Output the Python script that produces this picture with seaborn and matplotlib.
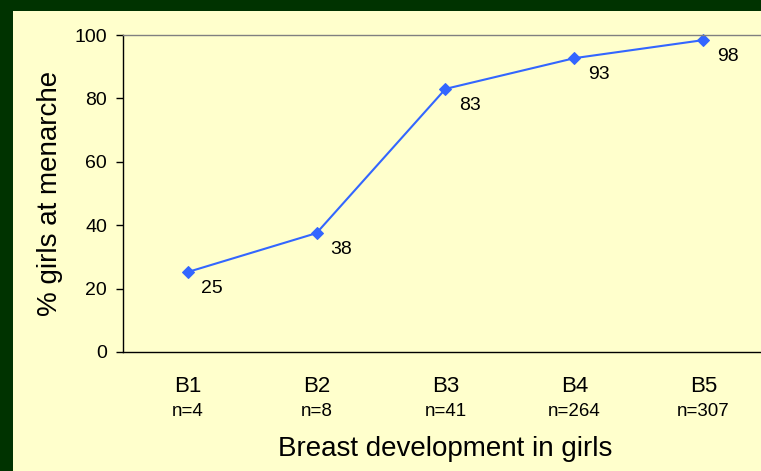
import matplotlib
matplotlib.use("Agg")
import matplotlib.pyplot as plt
import matplotlib.transforms as mtransforms
import seaborn as sns
import pandas as pd

stages = ["B1", "B2", "B3", "B4", "B5"]
counts = ["n=4", "n=8", "n=41", "n=264", "n=307"]
percent = [25.2, 37.5, 83.0, 92.7, 98.4]
labels = ["25", "38", "83", "93", "98"]

df = pd.DataFrame({"pos": range(len(stages)), "pct": percent})

sns.set_theme(style="white")
plt.rcParams["font.family"] = ["Liberation Sans", "DejaVu Sans"]

W, H = 761, 471
fig = plt.figure(figsize=(W / 100, H / 100), dpi=100)
fig.patch.set_facecolor("#003300")
bg = fig.add_axes([13 / W, 0, 1 - 13 / W, 1 - 11 / H], zorder=-10)
bg.set_facecolor("#FFFFCC")
bg.set_xticks([])
bg.set_yticks([])
for s in bg.spines.values():
    s.set_visible(False)

left, right, top, bottom = 123, 768, 35, 352
ax = fig.add_axes([left / W, 1 - bottom / H, (right - left) / W, (bottom - top) / H], zorder=1)
ax.set_facecolor("#FFFFCC")

sns.lineplot(data=df, x="pos", y="pct", ax=ax, color="#3366FF", linewidth=1.5,
             marker="D", markersize=6, markeredgecolor="#3366FF", clip_on=False)

ax.set_xlim(-0.5, 4.5)
ax.set_ylim(0, 100)
ax.set_yticks([0, 20, 40, 60, 80, 100])
ax.tick_params(axis="y", direction="out", length=5, width=1, color="black",
               labelsize=14, labelcolor="black", left=True, pad=6.5)
ax.set_xticks([])
ax.set_xlabel("")
ax.set_ylabel("")

for s in ["left", "bottom"]:
    ax.spines[s].set_color("black")
    ax.spines[s].set_linewidth(1)
ax.spines["right"].set_visible(False)
ax.spines["top"].set_color("#808080")
ax.spines["top"].set_linewidth(1)

offset = mtransforms.offset_copy(ax.transData, fig=fig, x=14, y=-8, units="dots")
for i, (v, lab) in enumerate(zip(percent, labels)):
    ax.text(i, v, lab, transform=offset, fontsize=14, color="black",
            ha="left", va="top")

# category labels: place by pixel offsets below the bottom spine
base = mtransforms.blended_transform_factory(ax.transData, ax.transAxes)
t1 = mtransforms.offset_copy(base, fig=fig, x=0, y=-(387 - bottom), units="dots")
t2 = mtransforms.offset_copy(base, fig=fig, x=0, y=-(412 - bottom), units="dots")
for i, (st, n) in enumerate(zip(stages, counts)):
    ax.text(i, 0, st, transform=t1, ha="center", va="center", fontsize=16, color="black")
    ax.text(i, 0, n, transform=t2, ha="center", va="center", fontsize=13.5, color="black")

fig.text(445 / W, 1 - 449 / H, "Breast development in girls", ha="center", va="center",
         fontsize=20, color="black")
fig.text(50 / W, 1 - 193 / H, "% girls at menarche", ha="center", va="center",
         rotation=90, fontsize=20, color="black")

fig.savefig("out.png", dpi=100, facecolor=fig.get_facecolor())
